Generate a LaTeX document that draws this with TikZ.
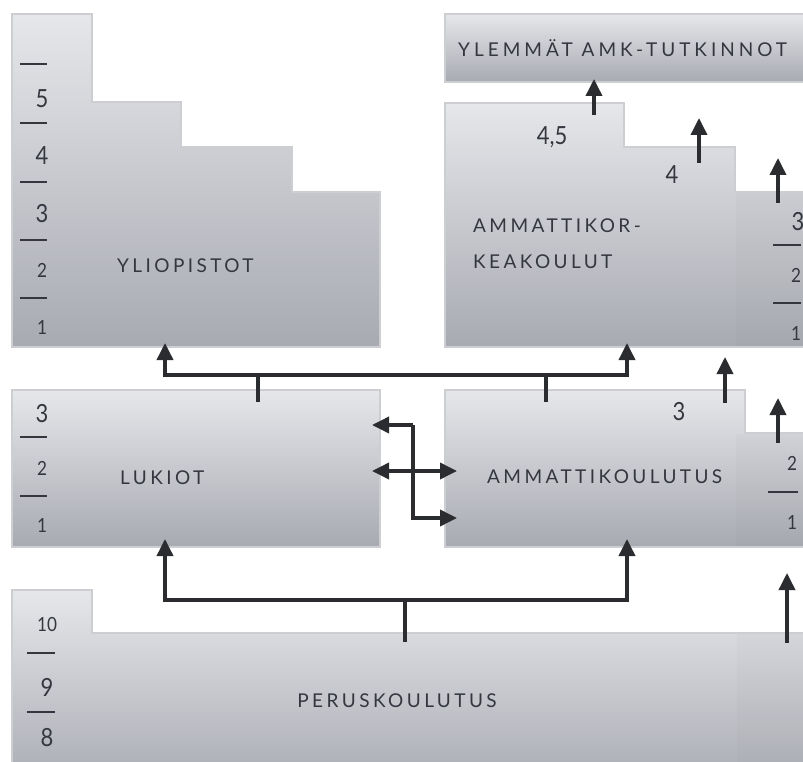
\documentclass[tikz,border=0pt]{standalone}
\usepackage{fontspec}
\setmainfont{Lato}
\newfontfamily\capfont[LetterSpace=18]{Lato}
\newfontfamily\widecapfont[LetterSpace=21]{Lato}
\usetikzlibrary{arrows.meta, positioning}
\definecolor{boxtop}{RGB}{230,231,234}
\definecolor{boxbot}{RGB}{168,170,178}
\definecolor{boxedge}{RGB}{205,206,210}
\definecolor{ink}{RGB}{52,55,62}
\definecolor{arrink}{RGB}{42,44,48}

\begin{document}
\begin{tikzpicture}[x=1pt, y=-1pt,
            stepbox/.style={top color=boxtop, bottom color=boxbot, draw=boxedge, line width=1.2pt},
            lbl/.style={text=ink, font=\capfont\fontsize{19}{19}\selectfont, inner sep=0pt, anchor=base west},
            num/.style={text=ink, font=\fontsize{19.5}{19.5}\selectfont, inner sep=0pt, xscale=0.88},
            bignum/.style={num, font=\fontsize{25}{25}\selectfont},
            tick/.style={draw=ink, line width=1.2pt},
            arr/.style={-{Triangle[length=17pt, width=16pt]}, draw=arrink, line width=3.6pt},
            dbl/.style={{Triangle[length=17pt, width=16pt]}-{Triangle[length=17pt, width=16pt]}, draw=arrink, line width=3.6pt},
            bar/.style={draw=arrink, line width=3.6pt}
        ]
            \useasboundingbox (0,0) rectangle (803,762);
            \clip (0,0) rectangle (803,762);

            % Top left: universities
            \path[stepbox] (12,14) -- (92,14) -- (92,102) -- (181,102) -- (181,147) -- (292,147)
                -- (292,192) -- (380,192) -- (380,347) -- (12,347) -- cycle;
            \node[lbl] (yo) at (117,272) {YLIOPISTOT};
            \foreach \y in {64,123,182,240,298} \draw[tick] (20,\y) -- (47,\y);
            \foreach \n/\y in {5/99,4/156,3/214} \node[bignum] (yo-\n) at (42,\y) {\n};
            \foreach \n/\y in {2/270,1/327} \node[num] (yo-\n) at (42,\y) {\n};

            % Top right: higher AMK degrees and AMK
            \path[stepbox] (445,14) rectangle (830,82);
            \node[lbl, font=\widecapfont\fontsize{19}{19}\selectfont] (ylamk) at (458,57) {YLEMMÄT AMK-TUTKINNOT};

            \path[stepbox] (445,103) -- (624,103) -- (624,147) -- (735,147) -- (735,192)
                -- (830,192) -- (830,347) -- (445,347) -- cycle;
            \fill[black, opacity=0.015] (736,193) rectangle (803,346);
            \node[lbl] (amk) at (473,233) {AMMATTIKOR-};
            \node[lbl] (amk-2) at (473,268) {KEAKOULUT};
            \node[bignum] (amk-45) at (552,137) {4,5};
            \node[bignum] (amk-4) at (672,175) {4};
            \foreach \y in {245,303} \draw[tick] (773,\y) -- (801,\y);
            \node[bignum] (amk-3) at (798,222) {3};
            \foreach \n/\y in {2/275,1/333} \node[num] (amk-\n) at (796,\y) {\n};

            % Middle: upper secondary and vocational
            \path[stepbox] (12,390) rectangle (380,547);
            \node[lbl] (luk) at (120,484) {LUKIOT};
            \foreach \y in {437,496} \draw[tick] (20,\y) -- (47,\y);
            \node[bignum] (luk-3) at (42,414) {3};
            \foreach \n/\y in {2/468,1/525} \node[num] (luk-\n) at (42,\y) {\n};

            \path[stepbox] (445,390) -- (745,390) -- (745,433) -- (830,433) -- (830,547)
                -- (445,547) -- cycle;
            \fill[black, opacity=0.015] (736,434) rectangle (803,546);
            \node[lbl] (amm) at (487,483) {AMMATTIKOULUTUS};
            \node[bignum] (amm-3) at (679,412) {3};
            \draw[tick] (768,492) -- (798,492);
            \foreach \n/\y in {2/463,1/522} \node[num] (amm-\n) at (792,\y) {\n};

            % Bottom: basic education
            \path[stepbox] (12,590) -- (92,590) -- (92,633) -- (830,633) -- (830,790)
                -- (12,790) -- cycle;
            \fill[black, opacity=0.015] (737,634) rectangle (803,762);
            \node[lbl, anchor=base] (per) at (397,707) {PERUSKOULUTUS};
            \foreach \y in {653,712} \draw[tick] (27,\y) -- (55,\y);
            \node[num] (per-10) at (47,625) {10};
            \foreach \n/\y in {9/687,8/738} \node[bignum] (per-\n) at (47,\y) {\n};

            % Connection points
            \coordinate (yo-in) at (165,343);
            \coordinate (amk-in) at (627,343);
            \coordinate (luk-in) at (165,539);
            \coordinate (amm-in) at (627,539);
            \coordinate (luk-out) at (258,402);
            \coordinate (amm-out) at (546,402);
            \coordinate (per-out) at (405,642);
            \coordinate (luk-r1) at (372,425);
            \coordinate (luk-r2) at (372,471);
            \coordinate (amm-l1) at (457,471);
            \coordinate (amm-l2) at (457,518);
            \coordinate (jn) at (413,425);

            % Up to higher education
            \draw[bar] (luk-out) -- ++(0,-27) coordinate (tb-l);
            \draw[bar] (amm-out) -- ++(0,-27) coordinate (tb-r);
            \draw[bar] (tb-l) -- (tb-r);
            \draw[arr] (tb-l) -| (yo-in);
            \draw[arr] (tb-r) -| (amk-in);

            % Up from basic education
            \draw[bar] (per-out) -- ++(0,-42) coordinate (bb-m);
            \draw[arr] (bb-m) -| (luk-in);
            \draw[arr] (bb-m) -| (amm-in);

            % Between upper secondary and vocational
            \draw[arr] (jn) -- (luk-r1);
            \draw[arr] (jn) |- (amm-l2);
            \draw[dbl] (luk-r2) -- (amm-l1);

            % Step arrows
            \draw[arr] (594,115) -- (594,79);
            \draw[arr] (699,163) -- (699,118);
            \draw[arr] (778,203) -- (778,158);
            \draw[arr] (725,403) -- (725,357);
            \draw[arr] (778,443) -- (778,398);
            \draw[arr] (787,643) -- (787,573);

        \end{tikzpicture}
\end{document}
